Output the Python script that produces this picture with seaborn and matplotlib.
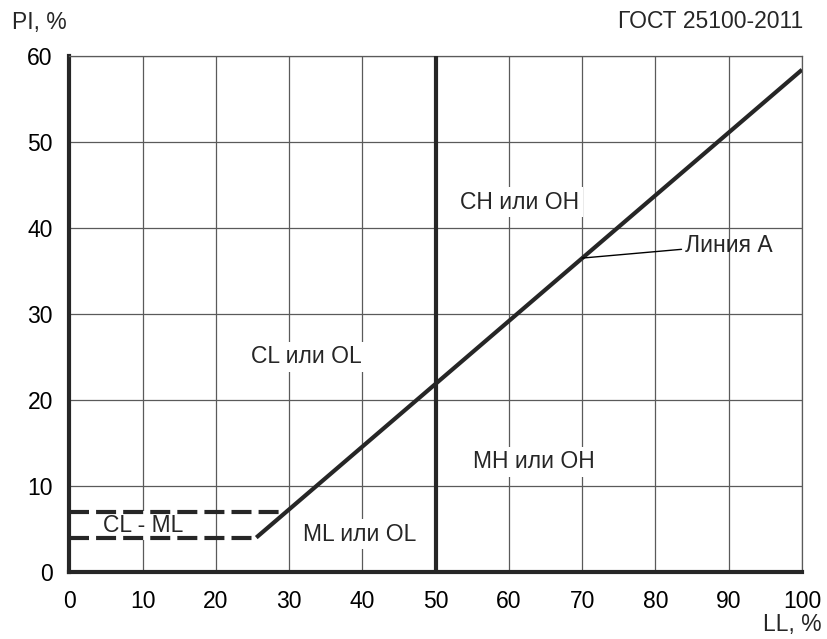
import matplotlib
matplotlib.use("Agg")
import matplotlib.pyplot as plt
import seaborn as sns
import pandas as pd

# Data
a_line_ll = [25.5, 100]
a_line_pi = [4.0, 58.4]
cl_ml_low_ll = [0, 25.5]
cl_ml_low_pi = [4, 4]
cl_ml_high_ll = [0, 29.6]
cl_ml_high_pi = [7, 7]
ll_boundary = 50
x_ticks = [0, 10, 20, 30, 40, 50, 60, 70, 80, 90, 100]
y_ticks = [0, 10, 20, 30, 40, 50, 60]
zone_labels = ["CH или OH", "CL или OL", "MH или OH", "ML или OL", "CL - ML"]
zone_ll = [61.5, 32.4, 63.4, 39.6, 10.0]
zone_pi = [43.0, 25.0, 12.8, 4.4, 5.4]

sns.set_theme(style="white")
plt.rcParams['font.family'] = ['Liberation Sans', 'DejaVu Sans']

fig = plt.figure(figsize=(8.28, 6.39), dpi=100)
ax = fig.add_axes([0.0839, 0.1049, 0.9686 - 0.0839, 0.9124 - 0.1049])

dark = "#262626"
fs = 16.5
ax.set_xlim(0, 100)
ax.set_ylim(0, 60)
ax.set_xticks(x_ticks)
ax.set_yticks(y_ticks)
ax.set_axisbelow(True)
ax.grid(True, color="#5a5a5a", linewidth=0.9)
ax.tick_params(length=0, labelsize=fs, colors="black")
ax.tick_params(axis="x", pad=13)
ax.tick_params(axis="y", pad=12)

for side in ["top", "right"]:
    ax.spines[side].set_linewidth(0.9)
    ax.spines[side].set_color("#5a5a5a")
for side in ["left", "bottom"]:
    ax.spines[side].set_linewidth(3.0)
    ax.spines[side].set_color(dark)

ax.axvline(ll_boundary, color=dark, linewidth=3.0, zorder=4)

df_a = pd.DataFrame({"LL": a_line_ll, "PI": a_line_pi})
sns.lineplot(data=df_a, x="LL", y="PI", ax=ax, color=dark, linewidth=3.0,
             zorder=4, solid_capstyle="butt")
for lx, ly in [(cl_ml_low_ll, cl_ml_low_pi), (cl_ml_high_ll, cl_ml_high_pi)]:
    d = pd.DataFrame({"LL": lx, "PI": ly})
    sns.lineplot(data=d, x="LL", y="PI", ax=ax, color=dark, linewidth=3.0,
                 zorder=4, linestyle=(0, (4.8, 1.7)))

ax.set_xlabel("")
ax.set_ylabel("")

for t, x, y in zip(zone_labels, zone_ll, zone_pi):
    ax.text(x, y, t, fontsize=fs, ha="center", va="center", zorder=3,
            bbox=dict(facecolor="white", edgecolor="none", pad=2.5))

ax.annotate("Линия А", xy=(70, 36.5), xytext=(84.0, 38.0), fontsize=fs,
            ha="left", va="center", zorder=5,
            arrowprops=dict(arrowstyle="-", color="black", linewidth=1.0,
                            shrinkA=0, shrinkB=0))

fig.text(12 / 828, 1 - 23 / 639, "PI, %", fontsize=fs, ha="left", va="center")
fig.text(803 / 828, 1 - 21 / 639, "ГОСТ 25100-2011", fontsize=fs, ha="right", va="center")
fig.text(822 / 828, 1 - 625 / 639, "LL, %", fontsize=fs, ha="right", va="center")

fig.savefig("out.png", dpi=100)
